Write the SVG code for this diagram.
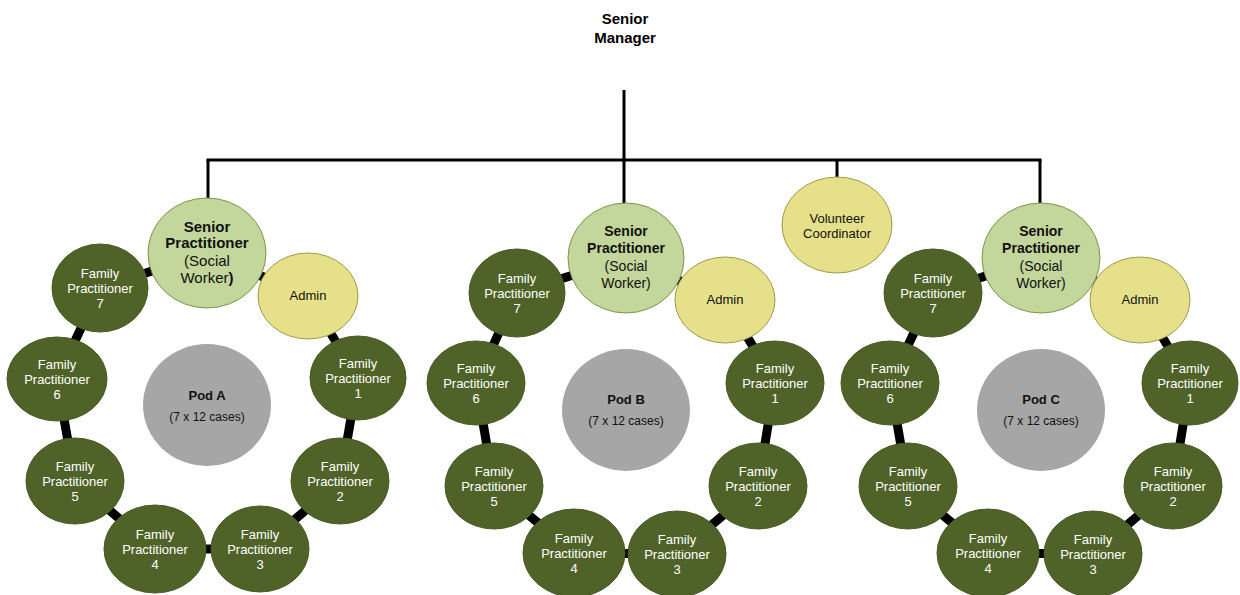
<svg xmlns="http://www.w3.org/2000/svg" width="1240" height="595" viewBox="0 0 1240 595">
<style>
.fp ellipse{fill:#4F6228;stroke:#4A5C25;stroke-width:1}
.sp ellipse{fill:#C3D69B;stroke:#7F9448;stroke-width:1}
.ad ellipse{fill:#E6E08A;stroke:#9E9A4A;stroke-width:1}
.pod ellipse{fill:#A6A6A6}
text{font-family:"Liberation Sans",Arial,sans-serif;text-anchor:middle}
.fp text{fill:#FFFFFF;font-size:13px}
.sp text{fill:#111;font-size:14px}
.ad text{fill:#111;font-size:13px}
.pod text{fill:#111;font-size:12px}
.b{font-weight:bold}
.org line{stroke:#000;stroke-width:3;fill:none}
.conn line{stroke:#000;stroke-width:9}
</style>
<rect width="1240" height="595" fill="#FFFFFF"/>
<g id="org-lines" class="org">
<line x1="624" y1="90" x2="624" y2="160"/>
<line x1="206.5" y1="160" x2="1041.5" y2="160"/>
<line x1="208" y1="160" x2="208" y2="199"/>
<line x1="624" y1="160" x2="624" y2="204"/>
<line x1="837" y1="160" x2="837" y2="178"/>
<line x1="1040" y1="160" x2="1040" y2="204"/>
</g>
<g id="connectors" class="conn">
<line x1="207" y1="253" x2="100" y2="288"/><line x1="207" y1="253" x2="308" y2="296"/><line x1="308" y1="296" x2="358" y2="378"/><line x1="100" y1="288" x2="57" y2="379"/><line x1="57" y1="379" x2="75" y2="481"/><line x1="358" y1="378" x2="340" y2="481"/><line x1="75" y1="481" x2="155" y2="549"/><line x1="340" y1="481" x2="260" y2="549"/><line x1="155" y1="549" x2="260" y2="549"/>
<line x1="626" y1="258" x2="517" y2="293"/><line x1="626" y1="258" x2="725" y2="300"/><line x1="725" y1="300" x2="775" y2="383"/><line x1="517" y1="293" x2="476" y2="383"/><line x1="476" y1="383" x2="494" y2="486"/><line x1="775" y1="383" x2="758" y2="486"/><line x1="494" y1="486" x2="574" y2="553"/><line x1="758" y1="486" x2="677" y2="554"/><line x1="574" y1="553" x2="677" y2="554"/>
<line x1="1041" y1="258" x2="933" y2="293"/><line x1="1041" y1="258" x2="1140" y2="300"/><line x1="1140" y1="300" x2="1190" y2="383"/><line x1="933" y1="293" x2="890" y2="383"/><line x1="890" y1="383" x2="908" y2="486"/><line x1="1190" y1="383" x2="1173" y2="486"/><line x1="908" y1="486" x2="988" y2="553"/><line x1="1173" y1="486" x2="1093" y2="554"/><line x1="988" y1="553" x2="1093" y2="554"/>
</g>
<g id="senior-manager"><text x="625" y="24" class="b" style="font-size:15px;fill:#000">Senior</text><text x="625" y="43" class="b" style="font-size:15px;fill:#000">Manager</text></g>
<g id="volunteer" class="ad" transform="translate(837,225)"><ellipse rx="55" ry="48"/><text y="-2">Volunteer</text><text y="13">Coordinator</text></g>

<!-- Pod A -->
<g id="spA" class="sp" transform="translate(207,253)"><ellipse rx="59" ry="55"/><text y="-21" class="b" style="font-size:15px">Senior</text><text y="-5" class="b" style="font-size:15px">Practitioner</text><text y="13" style="font-size:15px">(Social</text><text y="30" style="font-size:15px">Worker<tspan class="b">)</tspan></text></g>
<g id="adminA" class="ad" transform="translate(308,296)"><ellipse rx="50" ry="43"/><text y="4">Admin</text></g>
<g id="fp7A" class="fp" transform="translate(100,288)"><ellipse rx="48" ry="44"/><text y="-10.5">Family</text><text y="4.5">Practitioner</text><text y="19.5">7</text></g>
<g id="fp6A" class="fp" transform="translate(57,379)"><ellipse rx="50" ry="42"/><text y="-10.5">Family</text><text y="4.5">Practitioner</text><text y="19.5">6</text></g>
<g id="fp1A" class="fp" transform="translate(358,378)"><ellipse rx="48" ry="42"/><text y="-10.5">Family</text><text y="4.5">Practitioner</text><text y="19.5">1</text></g>
<g id="podA" class="pod" transform="translate(207,405)"><ellipse rx="64" ry="61"/><text y="-5" class="b" style="font-size:13px">Pod A</text><text y="16">(7 x 12 cases)</text></g>
<g id="fp5A" class="fp" transform="translate(75,481)"><ellipse rx="49" ry="43"/><text y="-10.5">Family</text><text y="4.5">Practitioner</text><text y="19.5">5</text></g>
<g id="fp2A" class="fp" transform="translate(340,481)"><ellipse rx="49" ry="43"/><text y="-10.5">Family</text><text y="4.5">Practitioner</text><text y="19.5">2</text></g>
<g id="fp4A" class="fp" transform="translate(155,549)"><ellipse rx="51" ry="44"/><text y="-10.5">Family</text><text y="4.5">Practitioner</text><text y="19.5">4</text></g>
<g id="fp3A" class="fp" transform="translate(260,549)"><ellipse rx="49" ry="43"/><text y="-10.5">Family</text><text y="4.5">Practitioner</text><text y="19.5">3</text></g>

<!-- Pod B -->
<g id="spB" class="sp" transform="translate(626,258)"><ellipse rx="58" ry="55"/><text y="-22" class="b">Senior</text><text y="-5" class="b">Practitioner</text><text y="13">(Social</text><text y="30">Worker)</text></g>
<g id="adminB" class="ad" transform="translate(725,300)"><ellipse rx="50" ry="43"/><text y="4">Admin</text></g>
<g id="fp7B" class="fp" transform="translate(517,293)"><ellipse rx="48" ry="44"/><text y="-10.5">Family</text><text y="4.5">Practitioner</text><text y="19.5">7</text></g>
<g id="fp6B" class="fp" transform="translate(476,383)"><ellipse rx="49" ry="42"/><text y="-10.5">Family</text><text y="4.5">Practitioner</text><text y="19.5">6</text></g>
<g id="fp1B" class="fp" transform="translate(775,383)"><ellipse rx="49" ry="42"/><text y="-10.5">Family</text><text y="4.5">Practitioner</text><text y="19.5">1</text></g>
<g id="podB" class="pod" transform="translate(626,410)"><ellipse rx="64" ry="61"/><text y="-6" class="b" style="font-size:13px">Pod B</text><text y="15">(7 x 12 cases)</text></g>
<g id="fp5B" class="fp" transform="translate(494,486)"><ellipse rx="49" ry="43"/><text y="-10.5">Family</text><text y="4.5">Practitioner</text><text y="19.5">5</text></g>
<g id="fp2B" class="fp" transform="translate(758,486)"><ellipse rx="49" ry="43"/><text y="-10.5">Family</text><text y="4.5">Practitioner</text><text y="19.5">2</text></g>
<g id="fp4B" class="fp" transform="translate(574,553)"><ellipse rx="51" ry="44"/><text y="-10.5">Family</text><text y="4.5">Practitioner</text><text y="19.5">4</text></g>
<g id="fp3B" class="fp" transform="translate(677,554)"><ellipse rx="49" ry="43"/><text y="-10.5">Family</text><text y="4.5">Practitioner</text><text y="19.5">3</text></g>

<!-- Pod C -->
<g id="spC" class="sp" transform="translate(1041,258)"><ellipse rx="59" ry="55"/><text y="-22" class="b">Senior</text><text y="-5" class="b">Practitioner</text><text y="13">(Social</text><text y="30">Worker)</text></g>
<g id="adminC" class="ad" transform="translate(1140,300)"><ellipse rx="50" ry="43"/><text y="4">Admin</text></g>
<g id="fp7C" class="fp" transform="translate(933,293)"><ellipse rx="49" ry="44"/><text y="-10.5">Family</text><text y="4.5">Practitioner</text><text y="19.5">7</text></g>
<g id="fp6C" class="fp" transform="translate(890,383)"><ellipse rx="49" ry="42"/><text y="-10.5">Family</text><text y="4.5">Practitioner</text><text y="19.5">6</text></g>
<g id="fp1C" class="fp" transform="translate(1190,383)"><ellipse rx="48" ry="42"/><text y="-10.5">Family</text><text y="4.5">Practitioner</text><text y="19.5">1</text></g>
<g id="podC" class="pod" transform="translate(1041,410)"><ellipse rx="64" ry="61"/><text y="-6" class="b" style="font-size:13px">Pod C</text><text y="15">(7 x 12 cases)</text></g>
<g id="fp5C" class="fp" transform="translate(908,486)"><ellipse rx="49" ry="43"/><text y="-10.5">Family</text><text y="4.5">Practitioner</text><text y="19.5">5</text></g>
<g id="fp2C" class="fp" transform="translate(1173,486)"><ellipse rx="49" ry="43"/><text y="-10.5">Family</text><text y="4.5">Practitioner</text><text y="19.5">2</text></g>
<g id="fp4C" class="fp" transform="translate(988,553)"><ellipse rx="51" ry="44"/><text y="-10.5">Family</text><text y="4.5">Practitioner</text><text y="19.5">4</text></g>
<g id="fp3C" class="fp" transform="translate(1093,554)"><ellipse rx="49" ry="43"/><text y="-10.5">Family</text><text y="4.5">Practitioner</text><text y="19.5">3</text></g>
</svg>
